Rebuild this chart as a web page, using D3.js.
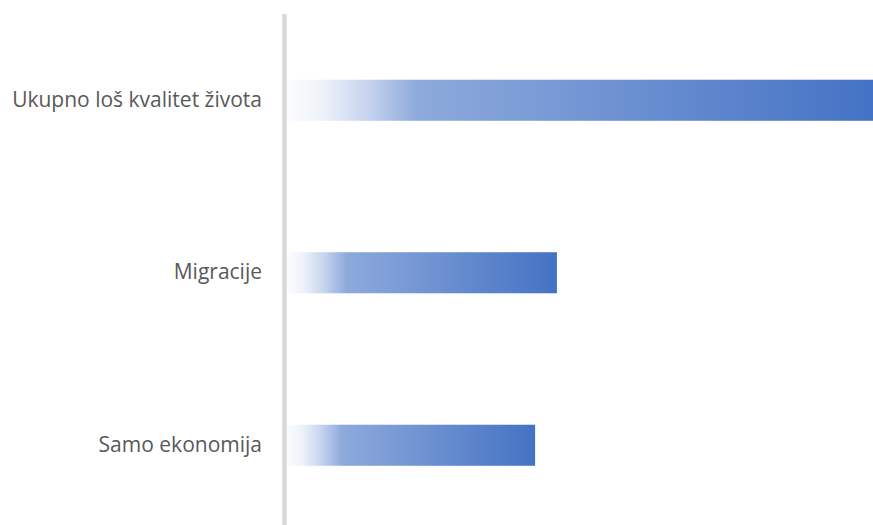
<!DOCTYPE html>
<html>
<head>
<meta charset="utf-8">
<script src="https://cdn.jsdelivr.net/npm/d3@7"></script>
<style>
  html, body { margin: 0; padding: 0; background: #fff; }
  svg { display: block; }
</style>
</head>
<body>
<svg id="chart" width="873" height="525"></svg>
<script>
const categories = ["Ukupno loš kvalitet života", "Migracije", "Samo ekonomija"];
const values = [0.470, 0.2165, 0.199];

const W = 873, H = 525;
const svg = d3.select("#chart");

const x = d3.scaleLinear().domain([0, d3.max(values)]).range([287, 873]);
const y = d3.scaleBand().domain(categories).range([14, 531.5]).paddingInner(0.762).paddingOuter(0.381);

const defs = svg.append("defs");
const grad = defs.append("linearGradient")
  .attr("id", "barGrad")
  .attr("x1", "0").attr("y1", "0").attr("x2", "1").attr("y2", "0");
[[0, "#fbfcfe"], [0.06, "#eef2fa"], [0.14, "#c5d3ee"], [0.22, "#8eaadc"], [1, "#4472c4"]]
  .forEach(([o, c]) => grad.append("stop").attr("offset", o).attr("stop-color", c));

svg.selectAll("rect.bar")
  .data(categories)
  .join("rect")
  .attr("class", "bar")
  .attr("x", x(0))
  .attr("y", d => y(d))
  .attr("width", (d, i) => x(values[i]) - x(0))
  .attr("height", y.bandwidth())
  .attr("fill", "url(#barGrad)");

// axis line
const axis = d3.axisLeft(y).tickSize(0).tickPadding(22.5);
const g = svg.append("g").attr("transform", "translate(284.5,0)").call(axis);
g.select(".domain").remove();
g.append("line")
  .attr("x1", 0).attr("x2", 0)
  .attr("y1", 14).attr("y2", H)
  .attr("stroke", "#d9d9d9").attr("stroke-width", 4.5);
g.selectAll(".tick text")
  .attr("font-family", "'Open Sans', sans-serif")
  .attr("font-size", "21px")
  .attr("fill", "#595959");
</script>
</body>
</html>
